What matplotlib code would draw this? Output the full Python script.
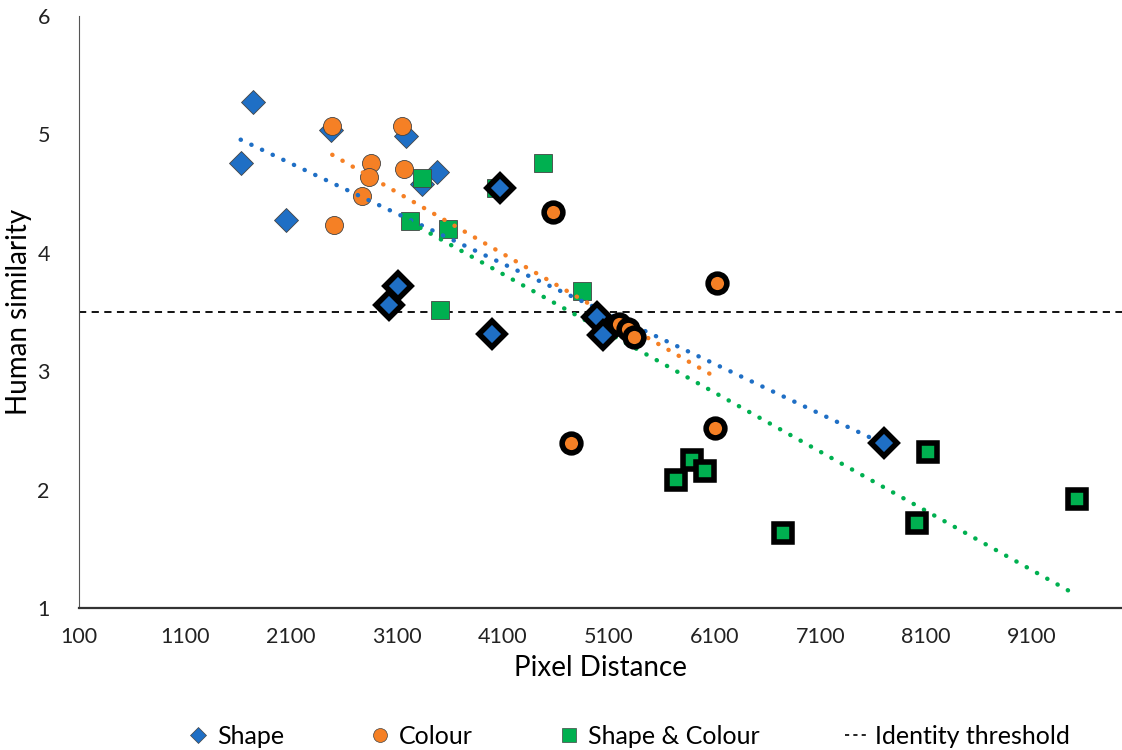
import numpy as np
import matplotlib
matplotlib.use('Agg')
import matplotlib.pyplot as plt
from matplotlib.lines import Line2D

plt.rcParams['font.family'] = ['Lato', 'DejaVu Sans']

# Shape (diamonds): thin edge, then black edged
shape_x = [1746, 1627, 2480, 3185, 2055, 3342, 3485]
shape_y = [5.27, 4.76, 5.04, 4.99, 4.28, 4.58, 4.68]
shape_bx = [3115, 3032, 4005, 4076, 4996, 5051, 7702]
shape_by = [3.72, 3.56, 3.32, 4.55, 3.46, 3.31, 2.40]

# Colour (circles)
colour_x = [2492, 3155, 2857, 2841, 3171, 2770, 2511]
colour_y = [5.07, 5.07, 4.76, 4.64, 4.71, 4.48, 4.24]
colour_bx = [4579, 6122, 4746, 6110, 5204, 5284, 5344]
colour_by = [4.35, 3.75, 2.40, 2.52, 3.40, 3.36, 3.29]

# Shape & Colour (squares)
both_x = [3336, 3226, 3587, 4035, 4479, 3509, 4847]
both_y = [4.63, 4.27, 4.20, 4.55, 4.76, 3.52, 3.68]
both_bx = [5886, 6011, 5735, 6751, 8114, 8010, 9527]
both_by = [2.25, 2.16, 2.08, 1.64, 2.32, 1.72, 1.92]

threshold = 3.5
xticks = [100, 1100, 2100, 3100, 4100, 5100, 6100, 7100, 8100, 9100]

blue = '#1F6FC5'
orange = '#F58025'
green = '#00B050'

fig = plt.figure(figsize=(11.22, 7.5), dpi=100)
ax = fig.add_axes([0.0704, 0.1887, 0.9296, 0.79])

groups = [
    (shape_x, shape_y, shape_bx, shape_by, 'D', blue, 12.5),
    (colour_x, colour_y, colour_bx, colour_by, 'o', orange, 13),
    (both_x, both_y, both_bx, both_by, 's', green, 13),
]

# trendlines first (drawn under markers)
for xs, ys, bxs, bys, m, c, ms in groups:
    allx = np.array(xs + bxs)
    ally = np.array(ys + bys)
    k, b = np.polyfit(allx, ally, 1)
    tx = np.array([allx.min(), allx.max()])
    ax.plot(tx, k * tx + b, linestyle=(0, (0.05, 2.6)), color=c, lw=3.2,
            dash_capstyle='round', zorder=4)

ax.axhline(threshold, color='black', linestyle=(0, (4, 3)), lw=1.3, zorder=2)

for xs, ys, bxs, bys, m, c, ms in groups:
    ax.plot(xs, ys, linestyle='None', marker=m, markersize=ms, markerfacecolor=c,
            markeredgecolor='#444444', markeredgewidth=0.6, zorder=3)
    ax.plot(bxs, bys, linestyle='None', marker=m, markersize=ms + 0.5, markerfacecolor=c,
            markeredgecolor='black', markeredgewidth=4, zorder=5)

ax.set_xlim(100, 9950)
ax.set_ylim(1, 6)
ax.set_xticks(xticks)
ax.set_yticks([1, 2, 3, 4, 5, 6])
ax.tick_params(axis='x', length=0, pad=13, labelsize=15.5, labelcolor='#222222')
ax.tick_params(axis='y', length=0, pad=21, labelsize=15.5, labelcolor='#222222')
for s in ['top', 'right']:
    ax.spines[s].set_visible(False)
ax.spines['left'].set_color('#555555')
ax.spines['bottom'].set_color('#333333')
ax.spines['bottom'].set_linewidth(1.6)

ax.set_xlabel('Pixel Distance', fontsize=20, labelpad=6)
ax.set_ylabel('Human similarity', fontsize=20, labelpad=4)

handles = [
    Line2D([], [], linestyle='None', marker='D', markersize=8, markerfacecolor=blue,
           markeredgecolor='#444444', markeredgewidth=0.5),
    Line2D([], [], linestyle='None', marker='o', markersize=10, markerfacecolor=orange,
           markeredgecolor='#444444', markeredgewidth=0.5),
    Line2D([], [], linestyle='None', marker='s', markersize=10, markerfacecolor=green,
           markeredgecolor='#444444', markeredgewidth=0.5),
    Line2D([], [], color='black', linestyle=(0, (2.5, 2.5)), lw=1.2),
]
labels = ['Shape', 'Colour', 'Shape & Colour', 'Identity threshold']
fig.legend(handles, labels, loc='center', bbox_to_anchor=(0.56, 0.018), ncol=4,
           frameon=False, fontsize=18, handlelength=0.9, handletextpad=0.3,
           columnspacing=3.4)

fig.savefig('out.png', dpi=100)
